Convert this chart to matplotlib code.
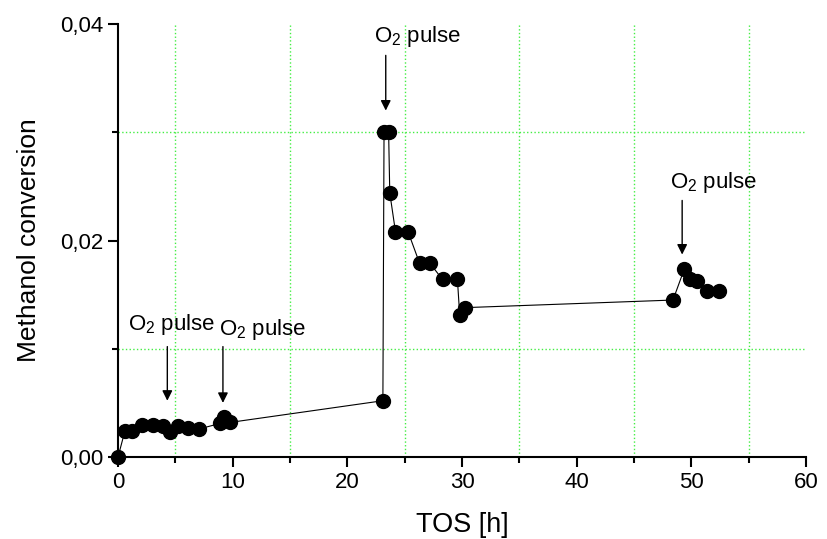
import matplotlib.pyplot as plt
from matplotlib.ticker import MultipleLocator, FuncFormatter

plt.rcParams['font.family'] = ['Liberation Sans', 'DejaVu Sans']
plt.rcParams['mathtext.fontset'] = 'custom'
plt.rcParams['mathtext.rm'] = 'Liberation Sans'

# time on stream [h] and methanol conversion
tos = [0, 0.6, 1.2, 2.1, 3.05, 3.9, 4.5, 5.2, 6.1, 7.1, 8.9, 9.2, 9.8,
       23.1, 23.2, 23.6, 23.7, 24.2, 25.3, 26.3, 27.2, 28.3, 29.6, 29.8, 30.3,
       48.4, 49.4, 49.9, 50.5, 51.4, 52.4]
conversion = [0.0, 0.0024, 0.0024, 0.0030, 0.0030, 0.0029, 0.0023, 0.0029, 0.0027, 0.0026,
              0.0031, 0.0037, 0.0032,
              0.0052, 0.0300, 0.0300, 0.0244, 0.0208, 0.0208, 0.0179, 0.0179, 0.0164, 0.0164,
              0.0131, 0.0138,
              0.0145, 0.0174, 0.0164, 0.0163, 0.0153, 0.0153]

# O2 pulses: arrow x, arrow top, arrow tip, text position
pulse_x = [4.3, 9.15, 23.35, 49.2]
pulse_top = [0.0102, 0.0102, 0.0371, 0.0237]
pulse_tip = [0.0052, 0.0050, 0.0320, 0.0187]
pulse_text_x = [0.85, 8.8, 22.35, 48.1]
pulse_text_y = [0.0122, 0.0118, 0.0388, 0.0254]

fig = plt.figure(figsize=(8.27, 5.39), dpi=100)
ax = fig.add_axes([0.1427, 0.1521, 0.8319, 0.8034])

ax.plot(tos, conversion, color='black', lw=0.8, marker='o', ms=10,
        mfc='black', mec='black', clip_on=False, zorder=3)

for i in range(len(pulse_x)):
    ax.annotate('', xy=(pulse_x[i], pulse_tip[i]), xytext=(pulse_x[i], pulse_top[i]),
                arrowprops=dict(arrowstyle='-|>', color='black', lw=1.0,
                                mutation_scale=15, shrinkA=0, shrinkB=0))
    ax.text(pulse_text_x[i], pulse_text_y[i], 'O$_2$ pulse', fontsize=16,
            ha='left', va='center')

ax.set_xlim(0, 60)
ax.set_ylim(0, 0.04)
ax.xaxis.set_major_locator(MultipleLocator(10))
ax.xaxis.set_minor_locator(MultipleLocator(5))
ax.yaxis.set_major_locator(MultipleLocator(0.02))
ax.yaxis.set_minor_locator(MultipleLocator(0.01))
ax.yaxis.set_major_formatter(FuncFormatter(lambda v, p: ('%.2f' % v).replace('.', ',')))

ax.grid(which='minor', color='#44ee44', linestyle=':', lw=1.0)
ax.grid(which='major', visible=False)

for s in ['top', 'right']:
    ax.spines[s].set_visible(False)
for s in ['left', 'bottom']:
    ax.spines[s].set_linewidth(1.5)

ax.tick_params(which='major', direction='out', length=7, width=1.5, labelsize=16)
ax.tick_params(which='minor', direction='out', length=4, width=1.5)

ax.set_xlabel('TOS [h]', fontsize=19.5, labelpad=14)
ax.set_ylabel('Methanol conversion', fontsize=19, labelpad=14)

plt.savefig('out.png', dpi=100)
